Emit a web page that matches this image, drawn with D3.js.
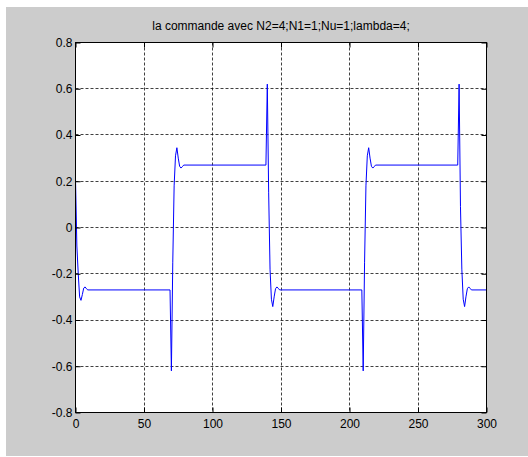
<!DOCTYPE html>
<html>
<head>
<meta charset="utf-8">
<script src="https://cdn.jsdelivr.net/npm/d3@7"></script>
<style>
  body { margin: 0; background: #fff; }
  text { font-family: "Liberation Sans", Arial, sans-serif; }
</style>
</head>
<body>
<svg></svg>
<script>
// Values: sample time and command u(t)
const timeSteps = [
  0, 1, 2, 3, 4, 5, 6, 7, 8, 9,
  69, 70, 71, 72, 73, 74, 75, 76, 77, 78, 79,
  139, 140, 141, 142, 143, 144, 145, 146, 147, 148, 149,
  209, 210, 211, 212, 213, 214, 215, 216, 217, 218, 219,
  279, 280, 281, 282, 283, 284, 285, 286, 287, 288, 289,
  300
];
const commandValues = [
  0.21, -0.08, -0.2, -0.3, -0.315, -0.29, -0.262, -0.257, -0.265, -0.27,
  -0.27, -0.62, -0.15, 0.18, 0.31, 0.345, 0.3, 0.265, 0.257, 0.263, 0.27,
  0.27, 0.62, 0.15, -0.18, -0.31, -0.342, -0.3, -0.265, -0.257, -0.263, -0.27,
  -0.27, -0.62, -0.15, 0.18, 0.31, 0.345, 0.3, 0.265, 0.257, 0.263, 0.27,
  0.27, 0.62, 0.09, -0.18, -0.31, -0.342, -0.3, -0.265, -0.257, -0.263, -0.27,
  -0.27
];
const xTicks = [0, 50, 100, 150, 200, 250, 300];
const yTicks = [-0.8, -0.6, -0.4, -0.2, 0, 0.2, 0.4, 0.6, 0.8];
const yTickLabels = ["-0.8", "-0.6", "-0.4", "-0.2", "0", "0.2", "0.4", "0.6", "0.8"];
const chartTitle = "la commande avec N2=4;N1=1;Nu=1;lambda=4;";

const data = timeSteps.map((t, i) => ({t: t, u: commandValues[i]}));

const margin = {top: 42.5, left: 75.5},
      width = 411,
      height = 370;

const root = d3.select("svg")
               .attr("width", 528)
               .attr("height", 457);

// grey figure background
root.append("rect")
    .attr("x", 6).attr("y", 7)
    .attr("width", 522).attr("height", 449)
    .attr("fill", "#cccccc");

const svg = root.append("g")
                .attr("transform", `translate(${margin.left},${margin.top})`);

const x = d3.scaleLinear().domain([0, 300]).range([0, width]);
const y = d3.scaleLinear().domain([-0.8, 0.8]).range([height, 0]);

// white axes area
svg.append("rect")
   .attr("x", 0).attr("y", 0)
   .attr("width", width).attr("height", height)
   .attr("fill", "#fff");

// dotted grid
svg.append("g")
   .selectAll("line")
   .data(xTicks.filter(d => d > 0 && d < 300))
   .enter()
   .append("line")
   .attr("x1", d => Math.round(x(d)))
   .attr("x2", d => Math.round(x(d)))
   .attr("y1", 0)
   .attr("y2", height)
   .attr("stroke", "#000")
   .attr("stroke-dasharray", "3,2")
   .attr("stroke-opacity", 0.75);

svg.append("g")
   .selectAll("line")
   .data(yTicks.filter(d => d > -0.8 && d < 0.8))
   .enter()
   .append("line")
   .attr("x1", 0)
   .attr("x2", width)
   .attr("y1", d => Math.round(y(d)))
   .attr("y2", d => Math.round(y(d)))
   .attr("stroke", "#000")
   .attr("stroke-dasharray", "3,2")
   .attr("stroke-opacity", 0.75);

// the command signal
svg.append("path")
   .datum(data)
   .attr("fill", "none")
   .attr("stroke", "#0000ff")
   .attr("stroke-width", 1)
   .attr("d", d3.line().x(d => x(d.t)).y(d => y(d.u)));

// axes with inward ticks on all four sides
const styleAxis = g => {
  g.select(".domain").remove();
  g.selectAll("text")
   .attr("font-size", "12px")
   .attr("fill", "#000");
};

svg.append("g")
   .attr("transform", `translate(0,${height})`)
   .call(d3.axisBottom(x).tickValues(xTicks).tickSize(-5).tickPadding(7).tickFormat(d3.format("d")))
   .call(styleAxis);

svg.append("g")
   .call(d3.axisTop(x).tickValues(xTicks).tickSize(-5).tickFormat(""))
   .call(styleAxis);

svg.append("g")
   .call(d3.axisLeft(y).tickValues(yTicks).tickSize(-5).tickPadding(3)
           .tickFormat((d, i) => yTickLabels[i]))
   .call(styleAxis);

svg.append("g")
   .attr("transform", `translate(${width},0)`)
   .call(d3.axisRight(y).tickValues(yTicks).tickSize(-5).tickFormat(""))
   .call(styleAxis);

// frame
svg.append("rect")
   .attr("x", 0).attr("y", 0)
   .attr("width", width).attr("height", height)
   .attr("fill", "none")
   .attr("stroke", "#000");

// title
svg.append("text")
   .attr("x", width / 2)
   .attr("y", 30 - margin.top)
   .style("text-anchor", "middle")
   .style("font-size", "12px")
   .text(chartTitle);
</script>
</body>
</html>
